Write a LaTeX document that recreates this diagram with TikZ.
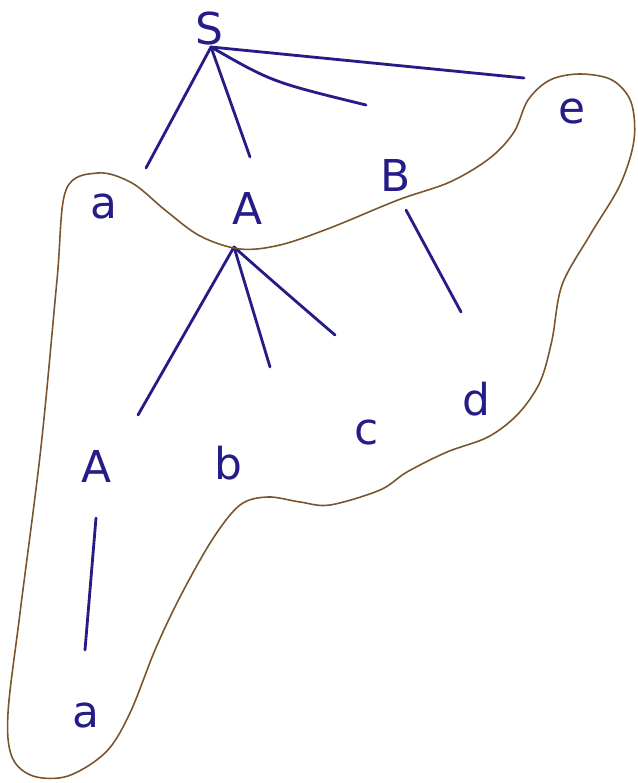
\documentclass[tikz,border=0pt]{standalone}
\usepackage{fontspec}
\setmainfont{DejaVu Sans}
\usepackage{tikz}
\usetikzlibrary{calc}
\definecolor{ink}{RGB}{38,28,135}
\definecolor{pencil}{RGB}{120,85,45}

\begin{document}
\begin{tikzpicture}[x=0.02cm, y=-0.02cm,
    sym/.style={font=\fontsize{25}{29}\selectfont, text=ink, inner sep=1pt},
    branch/.style={draw=ink, line width=1.6pt, line cap=round}]
  \useasboundingbox (0,0) rectangle (637,783);
  % grammar symbols
  \node[sym] (S)  at (209,29)  {S};
  \node[sym] (a1) at (104,207) {a};
  \node[sym] (A1) at (248,208) {A};
  \node[sym] (B)  at (396,175) {B};
  \node[sym] (e)  at (572,112) {e};
  \node[sym] (A2) at (97,466)  {A};
  \node[sym] (b)  at (228,463) {b};
  \node[sym] (c)  at (367,433) {c};
  \node[sym] (d)  at (476,399) {d};
  \node[sym] (a2) at (86,716)  {a};
  % branch points and branch ends
  \coordinate (Sr) at (211,47);
  \coordinate (Ar) at (234,247);
  \coordinate (toa) at (146,168);
  \coordinate (toA) at (250,157);
  \coordinate (toB) at (366,105);
  \coordinate (toe) at (524,78);
  \coordinate (toA2) at (138,415);
  \coordinate (tob) at (270,367);
  \coordinate (toc) at (335,335);
  \coordinate (Bs) at (406,210);
  \coordinate (tod) at (461,312);
  \coordinate (A2s) at (96,518);
  \coordinate (toa2) at (85,650);
  % tree
  \foreach \t in {toa, toA, toe}
    \draw[branch] (Sr) -- (\t);
  \draw[branch] (Sr) .. controls (272,82) .. (toB);
  \foreach \t in {toA2, tob}
    \draw[branch] (Ar) -- (\t);
  \draw[branch] (Ar) .. controls (262,272) and (300,305) .. (toc);
  \draw[branch] (Bs) -- (tod);
  \draw[branch] (A2s) -- (toa2);
  % outline round the handle
  \draw[pencil, line width=0.9pt] plot[smooth cycle, tension=0.55] coordinates {
    (66,190) (98,173) (132,183) (165,210) (200,236) (240,249) (280,245)
    (330,228) (398,200) (450,182) (490,158) (514,132) (528,100) (550,80)
    (580,74) (612,80) (631,102) (634,140) (620,185) (590,235) (562,285)
    (552,340) (540,382) (518,414) (488,437) (447,452) (407,472) (380,490)
    (330,505) (300,502) (268,497) (240,505) (212,540) (180,597) (155,650)
    (130,713) (106,752) (68,776) (33,776) (12,757) (8,713) (20,613)
    (41,447) (57,280)};
\end{tikzpicture}
\end{document}
